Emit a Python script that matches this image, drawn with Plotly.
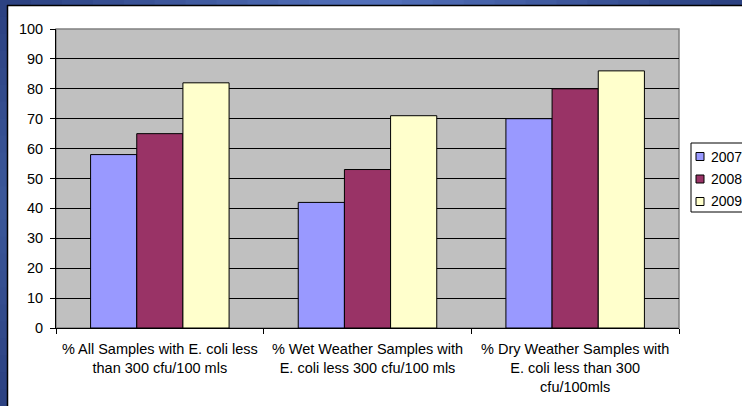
import plotly.graph_objects as go

categories = [
    "% All Samples with E. coli less<br>than 300 cfu/100 mls",
    "% Wet Weather Samples with<br>E. coli less 300 cfu/100 mls",
    "% Dry Weather Samples with<br>E. coli less than 300<br>cfu/100mls",
]
series_names = ["2007", "2008", "2009"]
values_2007 = [58, 42, 70]
values_2008 = [65, 53, 80]
values_2009 = [82, 71, 86]
colors = ["#9999ff", "#993366", "#ffffcc"]
y_ticks = [0, 10, 20, 30, 40, 50, 60, 70, 80, 90, 100]

W, H = 742, 406
L, R, T, B = 56, 679, 29, 328  # plot area pixels


def px(x):
    return (x - L) / (R - L)


def py(y):
    return (B - y) / (B - T)


fig = go.Figure()
for name, vals, c in zip(series_names, [values_2007, values_2008, values_2009], colors):
    fig.add_trace(go.Bar(name=name, x=categories, y=vals, showlegend=False,
                         marker=dict(color=c, line=dict(color="#000000", width=1))))

shapes = []
annotations = []


def lerp(a, b, t):
    return tuple(int(a[i] + (b[i] - a[i]) * t) for i in range(3))


dark = (44, 66, 130)
light = (84, 114, 188)
n = 24
for i in range(n):
    t = i / (n - 1)
    f = 1 - abs(2 * t - 1)
    c = lerp(dark, light, f)
    x0 = W * i / n
    x1 = W * (i + 1) / n + 1
    shapes.append(dict(type="rect", xref="paper", yref="paper", x0=px(x0), x1=px(x1), y0=py(5), y1=py(-1),
                       fillcolor="rgb(%d,%d,%d)" % c, line=dict(width=0), layer="above"))
for i in range(n):
    t = i / (n - 1)
    c = lerp(dark, (60, 88, 155), 1 - abs(2 * t - 1))
    y0 = H * i / n
    y1 = H * (i + 1) / n + 1
    shapes.append(dict(type="rect", xref="paper", yref="paper", x0=px(-1), x1=px(7), y0=py(y1), y1=py(y0),
                       fillcolor="rgb(%d,%d,%d)" % c, line=dict(width=0), layer="above"))
shapes.append(dict(type="line", xref="paper", yref="paper", x0=px(7), x1=px(W + 2), y0=py(5.5), y1=py(5.5),
                   line=dict(color="#000000", width=1.5), layer="above"))
shapes.append(dict(type="line", xref="paper", yref="paper", x0=px(7.5), x1=px(7.5), y0=py(5), y1=py(H + 2),
                   line=dict(color="#000000", width=1.5), layer="above"))
shapes.append(dict(type="rect", xref="paper", yref="paper", x0=0, x1=1, y0=0, y1=1,
                   line=dict(color="#808080", width=1.5), layer="below"))

# legend (box, swatches, labels)
shapes.append(dict(type="rect", xref="paper", yref="paper", x0=px(691), x1=px(W + 5), y0=py(212), y1=py(143),
                   fillcolor="#ffffff", line=dict(color="#000000", width=1), layer="above"))
leg_y = [156.5, 179, 201.5]
for name, c, yy in zip(series_names, colors, leg_y):
    shapes.append(dict(type="rect", xref="paper", yref="paper", x0=px(696), x1=px(704), y0=py(yy + 4), y1=py(yy - 4),
                       fillcolor=c, line=dict(color="#000000", width=1), layer="above"))
    annotations.append(dict(text=name, xref="paper", yref="paper", x=px(709.5), y=py(yy), xanchor="left",
                            yanchor="middle", showarrow=False, font=dict(size=14), borderpad=0))

fig.update_layout(
    width=W, height=H,
    margin=dict(l=L, r=W - R, t=T, b=H - B, pad=0, autoexpand=False),
    paper_bgcolor="#ffffff",
    plot_bgcolor="#c0c0c0",
    barmode="group",
    bargap=0.333,
    bargroupgap=0,
    font=dict(family="Liberation Sans, Arial, sans-serif", size=14, color="#000000"),
    showlegend=False,
    shapes=shapes,
    annotations=annotations,
)
fig.update_yaxes(range=[0, 100], tickvals=y_ticks, showgrid=True, gridcolor="#000000", gridwidth=1,
                 showline=True, linecolor="#000000", linewidth=1, ticks="outside", ticklen=5,
                 tickcolor="#000000", zeroline=False, fixedrange=True, tickfont=dict(size=14.5),
                 ticklabelstandoff=4)
fig.update_xaxes(showline=True, linecolor="#000000", linewidth=1, ticks="outside", ticklen=5,
                 tickson="boundaries", tickcolor="#000000", tickfont=dict(size=14.5), fixedrange=True,
                 ticklabelstandoff=8)

fig.write_html("out.html", config={"displayModeBar": False},
               post_script="document.body.style.margin='0';document.body.style.padding='0';")
